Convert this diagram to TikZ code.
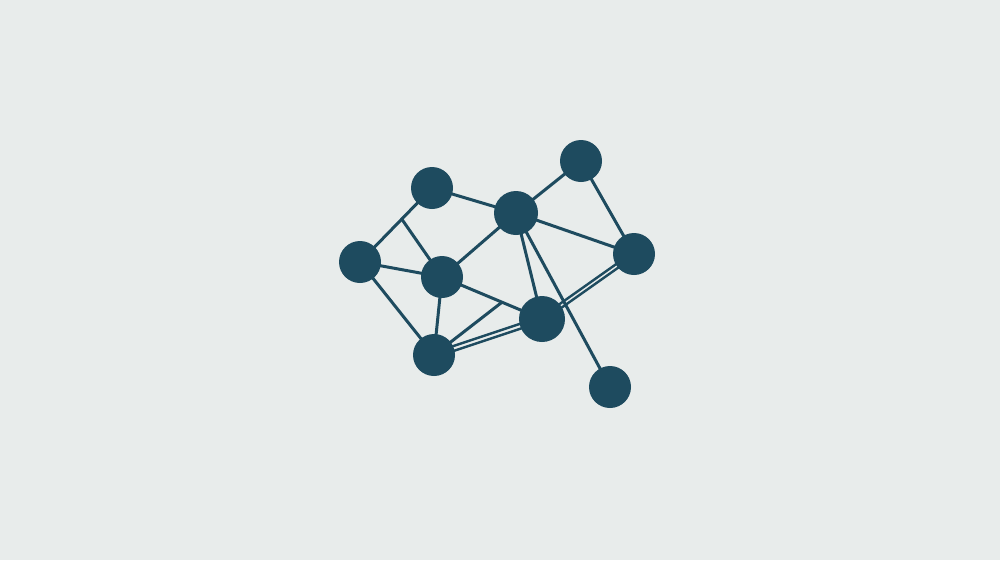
\documentclass[tikz,border=0pt]{standalone}
\usetikzlibrary{calc}
\definecolor{bg}{HTML}{E8ECEB}
\definecolor{ink}{HTML}{1E4B5F}
\begin{document}
\begin{tikzpicture}[x=1pt,y=-1pt,
  dot/.style={circle,fill=ink,inner sep=0pt,minimum size=#1},
  dot/.default=42pt,
  edge/.style={draw=ink,line width=3pt}]
\fill[bg] (0,0) rectangle (1000,560);
\useasboundingbox (0,0) rectangle (1000,560);
\coordinate (A) at (432,188);
\coordinate (B) at (360,262);
\coordinate (C) at (442,277);
\coordinate (D) at (516,213);
\coordinate (E) at (581,161);
\coordinate (F) at (634,254);
\coordinate (G) at (542,319);
\coordinate (H) at (434,355);
\coordinate (I) at (610,387);
\coordinate (ab) at ($(A)!0.42!(B)$);
\coordinate (cg) at ($(C)!0.6!(G)$);
\begin{scope}[edge]
\draw (A) -- (D);
\draw (A) -- (B);
\draw (ab) -- (C);
\draw (B) -- (C);
\draw (B) -- (H);
\draw (C) -- (D);
\draw (C) -- (H);
\draw (C) -- (G);
\draw (H) -- (cg);
\draw (D) -- (E);
\draw (D) -- (F);
\draw (D) -- (G);
\draw (D) -- (I);
\draw (E) -- (F);
\end{scope}
\begin{scope}[edge,line width=2.4pt]
\draw ([yshift=-2.5]H) -- ([yshift=-2.5]G);
\draw ([yshift=2.5]H) -- ([yshift=2.5]G);
\draw ([yshift=-2.5]G) -- ([yshift=-2.5]F);
\draw ([yshift=2.5]G) -- ([yshift=2.5]F);
\end{scope}
\node[dot] (nA) at (A) {};
\node[dot] (nB) at (B) {};
\node[dot] (nC) at (C) {};
\node[dot=44pt] (nD) at (D) {};
\node[dot] (nE) at (E) {};
\node[dot] (nF) at (F) {};
\node[dot=46pt] (nG) at (G) {};
\node[dot] (nH) at (H) {};
\node[dot] (nI) at (I) {};
\end{tikzpicture}
\end{document}
